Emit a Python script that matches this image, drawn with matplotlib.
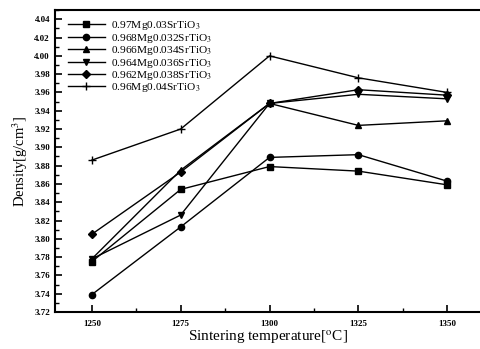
import matplotlib
matplotlib.use("Agg")
import matplotlib.pyplot as plt
from matplotlib.ticker import MultipleLocator

plt.rcParams['font.family'] = ['Liberation Serif', 'DejaVu Serif']
plt.rcParams['mathtext.fontset'] = 'stix'

temps = [1250, 1275, 1300, 1325, 1350]
labels = ["0.97Mg0.03SrTiO$_3$", "0.968Mg0.032SrTiO$_3$", "0.966Mg0.034SrTiO$_3$",
          "0.964Mg0.036SrTiO$_3$", "0.962Mg0.038SrTiO$_3$", "0.96Mg0.04SrTiO$_3$"]
d_030 = [3.775, 3.854, 3.879, 3.874, 3.859]
d_032 = [3.739, 3.813, 3.889, 3.892, 3.863]
d_034 = [3.778, 3.875, 3.948, 3.924, 3.929]
d_036 = [3.778, 3.826, 3.948, 3.958, 3.953]
d_038 = [3.805, 3.873, 3.948, 3.963, 3.957]
d_040 = [3.886, 3.920, 4.000, 3.976, 3.960]
series = [d_030, d_032, d_034, d_036, d_038, d_040]
markers = ['s', 'o', '^', 'v', 'D', '+']
sizes = [4.2, 4.5, 4.5, 4.5, 4.2, 5.5]

fig = plt.figure(figsize=(4.81, 3.49), dpi=100)
ax = fig.add_axes([0.114, 0.106, 0.886, 0.865])
for ys, lab, m, s in zip(series, labels, markers, sizes):
    ax.plot(temps, ys, color='black', lw=1.0, marker=m, ms=s,
            markerfacecolor='black', markeredgecolor='black', label=lab)

ax.set_xlim(1239.6, 1359.5)
ax.set_ylim(3.72, 4.05)
ax.set_xticks(temps)
ax.xaxis.set_minor_locator(MultipleLocator(12.5))
ax.yaxis.set_minor_locator(MultipleLocator(0.01))
ax.set_yticks([3.72 + 0.02 * i for i in range(17)])
ax.set_yticklabels([f"{3.72 + 0.02 * i:.2f}" for i in range(17)])
ax.tick_params(axis='both', which='major', direction='in', length=5, width=1.2, labelsize=6.5)
ax.tick_params(axis='both', which='minor', direction='in', length=3, width=1)
ax.tick_params(axis='x', pad=6)
for lab in ax.get_xticklabels() + ax.get_yticklabels():
    lab.set_fontweight('bold')
ax.spines['right'].set_visible(False)
for sp in ['left', 'bottom', 'top']:
    ax.spines[sp].set_linewidth(1.5)

ax.set_xlabel("Sintering temperature[$^{\\rm o}$C]", fontsize=11, labelpad=0)
ax.set_ylabel("Density[g/cm$^3$]", fontsize=10.5, labelpad=3)

leg = ax.legend(loc='upper left', fontsize=8.2, frameon=False, handlelength=3.2,
                handletextpad=0.6, labelspacing=-0.05, borderaxespad=0.4,
                bbox_to_anchor=(0.01, 1.0))

fig.savefig("out.png", dpi=100)
